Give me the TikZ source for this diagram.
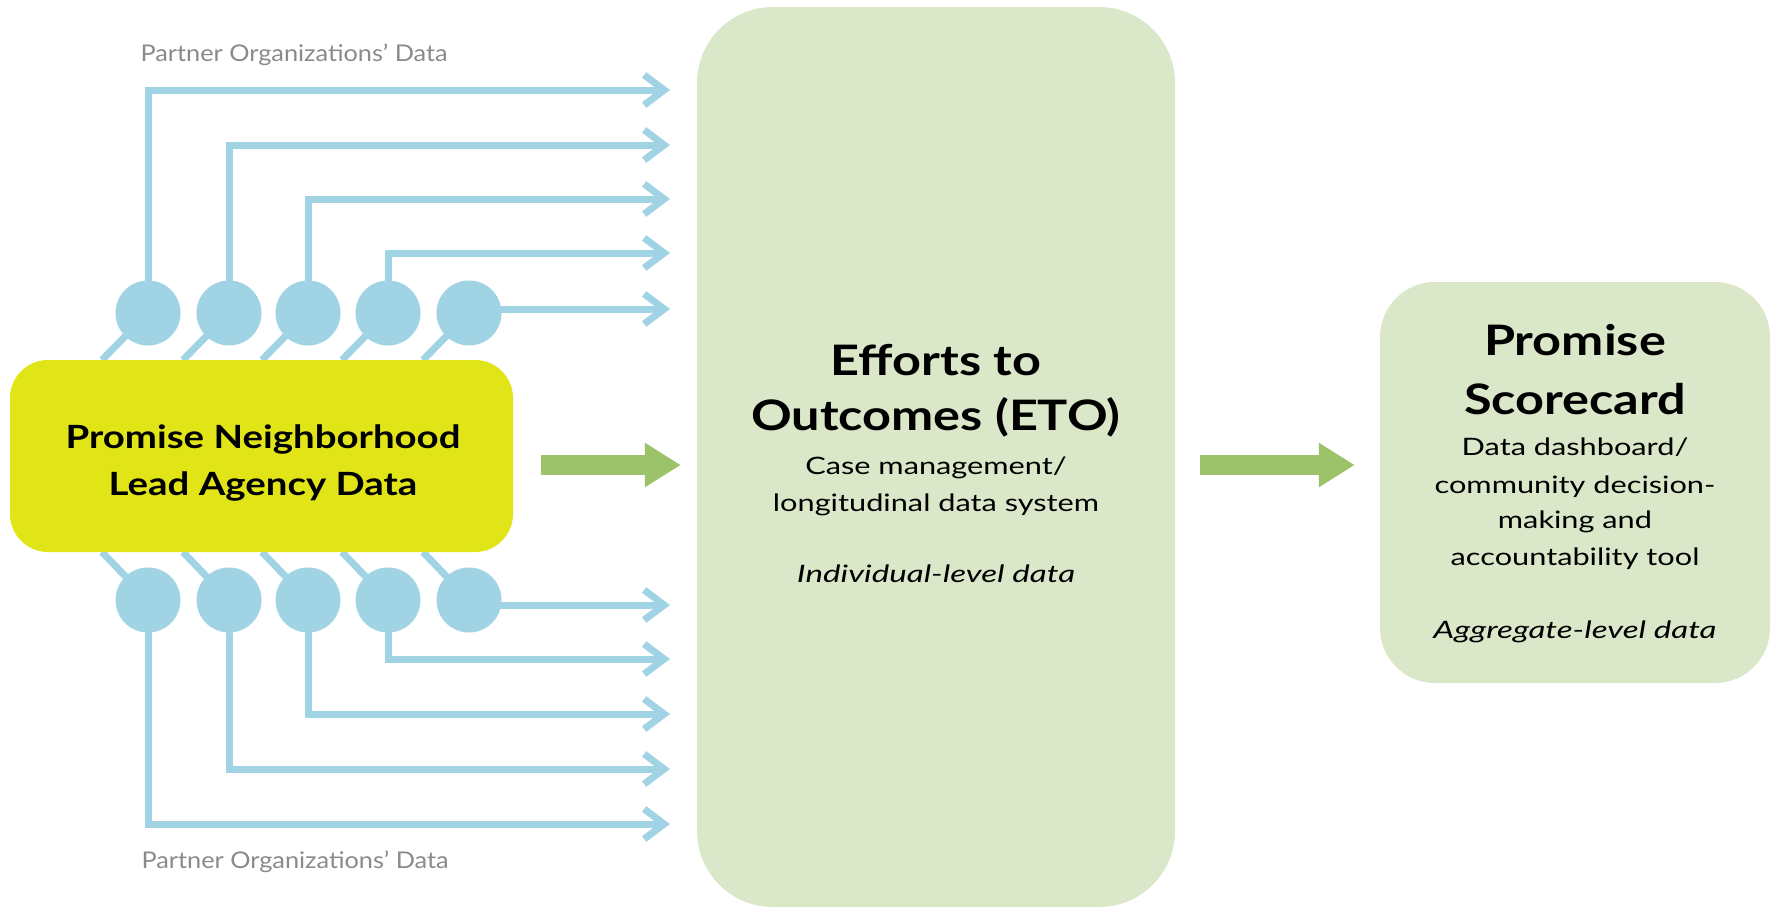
\documentclass[tikz,border=0pt]{standalone}
\usepackage{fontspec}
\setmainfont{Lato}
\newfontfamily\fbig{Lato}[FakeStretch=1.2]
\newfontfamily\fsub{Lato}[FakeStretch=1.28]
\newfontfamily\fital{Lato}[FakeStretch=1.38]
\newfontfamily\flab{Lato}[FakeStretch=1.1]
\usetikzlibrary{arrows.meta,backgrounds}
\definecolor{lblue}{HTML}{A0D3E3}
\definecolor{ybox}{HTML}{E1E517}
\definecolor{lgreen}{HTML}{DAE7C8}
\definecolor{garr}{HTML}{9DC36A}
\definecolor{lgray}{HTML}{8A8A8A}
\begin{document}
\begin{tikzpicture}[x=1pt,y=-1pt,
  bl/.style={draw=lblue,line width=7pt,line join=miter},
  blarrow/.style={bl,-{Straight Barb[length=20pt,width=30pt]}},
  dot/.style={circle,fill=lblue,minimum size=65pt,inner sep=0pt},
  garrow/.style={draw=garr,line width=20pt,-{Triangle[length=36pt,width=42pt]}},
  rbox/.style={fill=lgreen,draw=none,inner sep=0pt},
  lbl/.style={anchor=base,text=lgray,font=\flab\fontsize{23}{27}\selectfont},
  ttl/.style={anchor=base,font=\fbig\fontsize{42}{50}\selectfont\bfseries},
  ytxt/.style={anchor=base,font=\fbig\fontsize{32}{38}\selectfont\bfseries},
  sub/.style={anchor=base,font=\fsub\fontsize{24}{29}\selectfont},
  subit/.style={anchor=base,font=\fital\fontsize{24}{29}\selectfont\itshape}
]
\useasboundingbox (0,0) rectangle (1777,908);

% boxes
\node[fill=ybox,draw=none,rounded corners=38pt,minimum width=503pt,minimum height=192pt,inner sep=0pt] (yb) at (261.5,456) {};
\node[rbox,rounded corners=76pt,minimum width=478pt,minimum height=900pt] (eto) at (936,457) {};
\node[rbox,rounded corners=55pt,minimum width=390pt,minimum height=401pt] (sc) at (1575,482.5) {};

% circles
\foreach \i/\x in {1/148,2/229,3/308,4/388,5/469}{
  \node[dot] (t\i) at (\x,313) {};
  \node[dot] (b\i) at (\x,600) {};
}

% free ends of the blue arrows
\foreach \i/\y in {1/90,2/145,3/199,4/253,5/309}{
  \coordinate (e\i) at (670,\y);
}
\foreach \i/\y in {5/605,4/659,3/714,2/769,1/824}{
  \coordinate (f\i) at (670,\y);
}
% where the short diagonals meet the yellow box
\foreach \i/\x in {1/148,2/229,3/308,4/388,5/469}{
  \coordinate (dt\i) at (\x-46,360);
  \coordinate (db\i) at (\x-46,552);
}

\begin{scope}[on background layer]
  \foreach \i in {1,...,5}{
    \draw[bl] (t\i.center) -- (dt\i);
    \draw[bl] (b\i.center) -- (db\i);
  }
  \foreach \i in {1,...,4}{
    \draw[blarrow] (t\i.center) |- (e\i);
    \draw[blarrow] (b\i.center) |- (f\i);
  }
  \draw[blarrow] (t5.center |- e5) -- (e5);
  \draw[blarrow] (b5.center |- f5) -- (f5);
\end{scope}

% green arrows
\draw[garrow] ([shift={(28,9)}]yb.east) -- ([shift={(-16,8)}]eto.west);
\draw[garrow] ([shift={(25,8)}]eto.east) -- ([shift={(-25,-17.5)}]sc.west);

% labels
\node[lbl,anchor=base west] (ptop) at (137,61) {Partner Organizations’ Data};
\node[lbl,anchor=base west] (pbot) at (138,868) {Partner Organizations’ Data};

\node[ytxt] (y1) at (263,448) {Promise Neighborhood};
\node[ytxt] (y2) at (263,495) {Lead Agency Data};

\node[ttl] (et1) at (936,375) {Efforts to};
\node[ttl] (et2) at (936,430) {Outcomes (ETO)};
\node[sub] (et3) at (936,474) {Case management/};
\node[sub] (et4) at (936,511) {longitudinal data system};
\node[subit] (et5) at (936,582) {Individual-level data};

\node[ttl] (s1) at (1575,355) {Promise};
\node[ttl] (s2) at (1575,414) {Scorecard};
\node[sub] (s3) at (1575,455) {Data dashboard/};
\node[sub] (s4) at (1575,493) {community decision-};
\node[sub] (s5) at (1575,528) {making and};
\node[sub] (s6) at (1575,565) {accountability tool};
\node[subit] (s7) at (1575,638) {Aggregate-level data};
\end{tikzpicture}
\end{document}
